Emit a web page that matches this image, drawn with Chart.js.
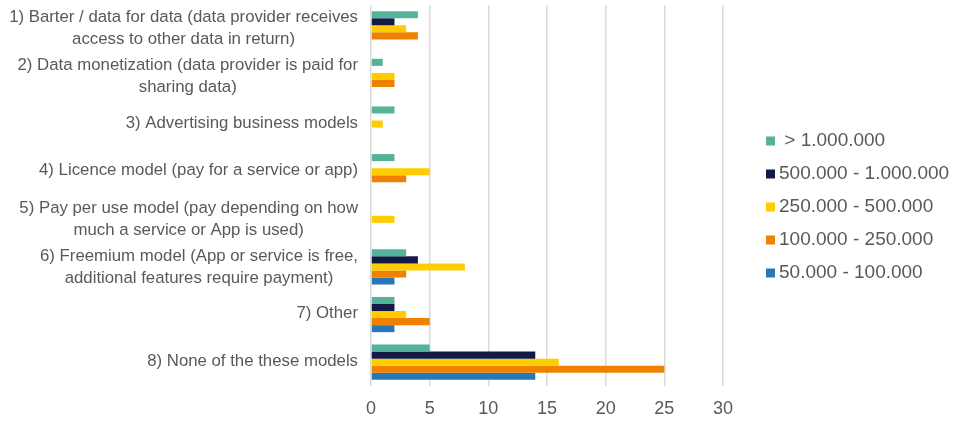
<!DOCTYPE html>
<html>
<head>
<meta charset="utf-8">
<script src="https://cdn.jsdelivr.net/npm/chart.js@4"></script>
<style>
  html, body { margin: 0; padding: 0; background: #fff; }
  #wrap { width: 954px; height: 423px; position: relative; }
</style>
</head>
<body>
<div id="wrap"><canvas id="grafico"></canvas></div>
<script>
// categorias (eje vertical)
const categorias = [
    ['1) Barter / data for data (data provider receives', 'access to other data in return)'],
    ['2) Data monetization (data provider is paid for', 'sharing data)'],
    '3) Advertising business models',
    '4) Licence model (pay for a service or app)',
    ['5) Pay per use model (pay depending on how', 'much a service or App is used)'],
    ['6) Freemium model (App or service is free,', 'additional features require payment)'],
    '7) Other',
    '8) None of the these models'
];

// series
const series = [' > 1.000.000', '500.000 - 1.000.000', '250.000 - 500.000', '100.000 - 250.000', '50.000 - 100.000'];
const colores = ['#55b39b', '#141a46', '#ffcc00', '#f08000', '#2878b8'];

const mas1M      = [4, 1, 2, 2, 0, 3, 2, 5];
const de500a1M   = [2, 0, 0, 0, 0, 4, 2, 14];
const de250a500  = [3, 2, 1, 5, 2, 8, 3, 16];
const de100a250  = [4, 2, 0, 3, 0, 3, 5, 25];
const de50a100   = [0, 0, 0, 0, 0, 2, 2, 14];
const valores = [mas1M, de500a1M, de250a500, de100a250, de50a100];

const ticksX = [0, 5, 10, 15, 20, 25, 30];

const fuente = '"Liberation Sans", Arial, sans-serif';
const gris = '#595959';

// Etiquetas del eje Y: bloque alineado a la derecha, lineas centradas
const etiquetasY = {
    id: 'etiquetasY',
    afterDraw(chart) {
        const c = chart.ctx;
        const y = chart.scales.y;
        const derecha = chart.chartArea.left - 13;
        const alto = 22;
        c.save();
        c.font = '16.8px ' + fuente;
        c.fillStyle = gris;
        c.textAlign = 'center';
        c.textBaseline = 'middle';
        chart.data.labels.forEach((lab, i) => {
            const lineas = Array.isArray(lab) ? lab : [lab];
            const ancho = Math.max(...lineas.map(l => c.measureText(l).width));
            const cx = derecha - ancho / 2;
            const cy = y.getPixelForTick(i) - (lineas.length === 1 ? 1 : 0);
            lineas.forEach((l, k) => {
                c.fillText(l, cx, cy + (k - (lineas.length - 1) / 2) * alto);
            });
        });
        c.restore();
    }
};

// Leyenda a la derecha
const leyenda = {
    id: 'leyenda',
    afterDraw(chart) {
        const c = chart.ctx;
        const x0 = 766, y0 = 141, paso = 33, lado = 9;
        c.save();
        c.font = '19px ' + fuente;
        c.textAlign = 'left';
        c.textBaseline = 'middle';
        chart.data.datasets.forEach((ds, i) => {
            const yc = y0 + i * paso;
            c.fillStyle = ds.backgroundColor;
            c.fillRect(x0, yc - lado / 2, lado, lado);
            c.fillStyle = gris;
            c.fillText(ds.label, x0 + lado + 4, yc);
        });
        c.restore();
    }
};

const ctx = document.getElementById('grafico').getContext('2d');
new Chart(ctx, {
    type: 'bar',
    data: {
        labels: categorias,
        datasets: series.map((nombre, i) => ({
            label: nombre,
            data: valores[i],
            backgroundColor: colores[i],
            borderWidth: 0,
            categoryPercentage: 0.74,
            barPercentage: 1
        }))
    },
    options: {
        indexAxis: 'y',
        responsive: true,
        maintainAspectRatio: false,
        animation: false,
        layout: { padding: { top: 5, right: 0, bottom: 0, left: 0 } },
        scales: {
            x: {
                min: 0, max: 30,
                afterBuildTicks: ax => { ax.ticks = ticksX.map(v => ({ value: v })); },
                afterFit: ax => { ax.height = 37; ax.paddingRight = 231; ax.paddingLeft = 0; },
                grid: { color: '#d9d9d9', lineWidth: 1.5, drawTicks: false },
                border: { display: false },
                ticks: { color: gris, font: { family: fuente, size: 18 }, padding: 12 }
            },
            y: {
                afterFit: ax => { ax.width = 371; ax.paddingTop = 0; ax.paddingBottom = 0; },
                grid: { display: false },
                border: { display: false },
                ticks: { display: false }
            }
        },
        plugins: {
            legend: { display: false },
            tooltip: { enabled: false }
        }
    },
    plugins: [etiquetasY, leyenda]
});
</script>
</body>
</html>
